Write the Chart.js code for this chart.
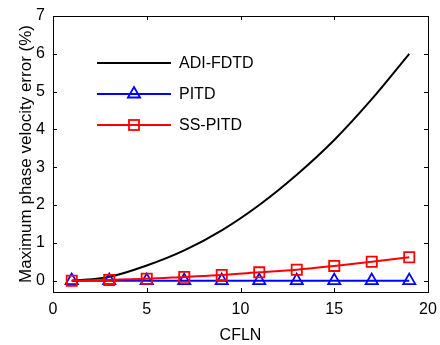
<!DOCTYPE html>
<html>
<head>
<meta charset="utf-8">
<script src="https://cdn.jsdelivr.net/npm/chart.js@4"></script>
<style>
  html, body { margin: 0; padding: 0; background: #fff; }
  #wrap { width: 440px; height: 345px; }
</style>
</head>
<body>
<div id="wrap"><canvas id="chart" width="440" height="345"></canvas></div>
<script>
const CFLN = [1, 3, 5, 7, 9, 11, 13, 15, 17, 19];
const ADI_FDTD = [0, 0.1, 0.4, 0.8, 1.33, 2.0, 2.8, 3.72, 4.8, 6.0];
const PITD = [0, 0, 0, 0, 0, 0, 0, 0, 0, 0];
const SS_PITD = [0, 0.02, 0.05, 0.1, 0.15, 0.22, 0.29, 0.39, 0.5, 0.62];
const X_TICKS = [0, 5, 10, 15, 20];
const Y_TICKS = [0, 1, 2, 3, 4, 5, 6, 7];

const FONT = "'Liberation Sans', Arial, sans-serif";

const toPoints = ys => CFLN.map((x, i) => ({ x, y: ys[i] }));

// Cadre + graduations vers l'intérieur (style MATLAB) et légende dans la zone du tracé
const matlabFrame = {
  id: 'matlabFrame',
  afterDraw(chart) {
    const { ctx, chartArea: a, scales: { x, y } } = chart;
    ctx.save();
    ctx.strokeStyle = '#000';
    ctx.lineWidth = 1;
    ctx.strokeRect(a.left + 0.5, a.top + 0.5, a.right - a.left, a.bottom - a.top);
    const t = 4;
    ctx.beginPath();
    X_TICKS.forEach(v => {
      const px = Math.round(x.getPixelForValue(v)) + 0.5;
      ctx.moveTo(px, a.bottom); ctx.lineTo(px, a.bottom - t);
      ctx.moveTo(px, a.top); ctx.lineTo(px, a.top + t);
    });
    Y_TICKS.forEach(v => {
      const py = Math.round(y.getPixelForValue(v)) + 0.5;
      ctx.moveTo(a.left, py); ctx.lineTo(a.left + t, py);
      ctx.moveTo(a.right, py); ctx.lineTo(a.right - t, py);
    });
    ctx.stroke();

    // légende
    const rows = chart.data.datasets;
    const x0 = 97, x1 = 171, tx = 179;
    const ys = [63, 94, 125];
    ctx.font = '16px ' + FONT;
    ctx.textBaseline = 'middle';
    ctx.textAlign = 'left';
    rows.forEach((ds, i) => {
      const yy = ys[i];
      ctx.strokeStyle = ds.borderColor;
      ctx.lineWidth = ds.borderWidth;
      ctx.beginPath();
      ctx.moveTo(x0, yy); ctx.lineTo(x1, yy);
      ctx.stroke();
      const cx = (x0 + x1) / 2;
      ctx.lineWidth = 1.8;
      if (ds.pointStyle === 'triangle') {
        const r = 7;
        ctx.beginPath();
        ctx.moveTo(cx, yy - r);
        ctx.lineTo(cx + r * 0.87, yy + r * 0.5);
        ctx.lineTo(cx - r * 0.87, yy + r * 0.5);
        ctx.closePath();
        ctx.stroke();
      } else if (ds.pointStyle === 'rect') {
        ctx.strokeRect(cx - 5, yy - 5, 10, 10);
      }
      ctx.fillStyle = '#000';
      ctx.fillText(ds.label, tx, yy + 1);
    });
    ctx.restore();
  }
};

new Chart(document.getElementById('chart'), {
  type: 'line',
  data: {
    datasets: [
      {
        label: 'ADI-FDTD',
        data: toPoints(ADI_FDTD),
        borderColor: '#000',
        borderWidth: 2,
        pointRadius: 0,
        pointStyle: false,
        cubicInterpolationMode: 'monotone',
        order: 3,
      },
      {
        label: 'PITD',
        data: toPoints(PITD),
        borderColor: '#0000ff',
        borderWidth: 2,
        pointStyle: 'triangle',
        pointRadius: 7,
        pointBorderWidth: 1.8,
        pointBackgroundColor: 'rgba(255,255,255,0)',
        pointBorderColor: '#0000ff',
        order: 2,
      },
      {
        label: 'SS-PITD',
        data: toPoints(SS_PITD),
        borderColor: '#ff0000',
        borderWidth: 2,
        pointStyle: 'rect',
        pointRadius: 7.2,
        pointBorderWidth: 1.8,
        pointBackgroundColor: 'rgba(255,255,255,0)',
        pointBorderColor: '#ff0000',
        cubicInterpolationMode: 'monotone',
        order: 1,
      },
    ],
  },
  options: {
    responsive: false,
    animation: false,
    layout: { padding: { top: 16, right: 12, left: 14, bottom: 0 } },
    plugins: { legend: { display: false }, tooltip: { enabled: false } },
    scales: {
      x: {
        type: 'linear',
        min: 0,
        max: 20,
        afterBuildTicks: s => { s.ticks = X_TICKS.map(v => ({ value: v })); },
        afterFit: s => { s.height = 53; },
        grid: { display: false, drawTicks: true, tickLength: 8 },
        border: { display: false },
        ticks: { color: '#000', font: { family: FONT, size: 16 }, padding: 0, maxRotation: 0 },
        title: { display: true, text: 'CFLN', color: '#000', font: { family: FONT, size: 16 }, padding: { top: 2, bottom: 0 } },
      },
      y: {
        type: 'linear',
        min: -0.3,
        max: 7,
        afterBuildTicks: s => { s.ticks = Y_TICKS.map(v => ({ value: v })); },
        afterFit: s => { s.width = 39; },
        grid: { display: false, drawTicks: true, tickLength: 8 },
        border: { display: false },
        ticks: { color: '#000', font: { family: FONT, size: 16 }, padding: 0 },
        title: { display: true, text: 'Maximum phase velocity error (%)', color: '#000', font: { family: FONT, size: 17 }, padding: { top: 2, bottom: 0 } },
      },
    },
  },
  plugins: [matlabFrame],
});
</script>
</body>
</html>
